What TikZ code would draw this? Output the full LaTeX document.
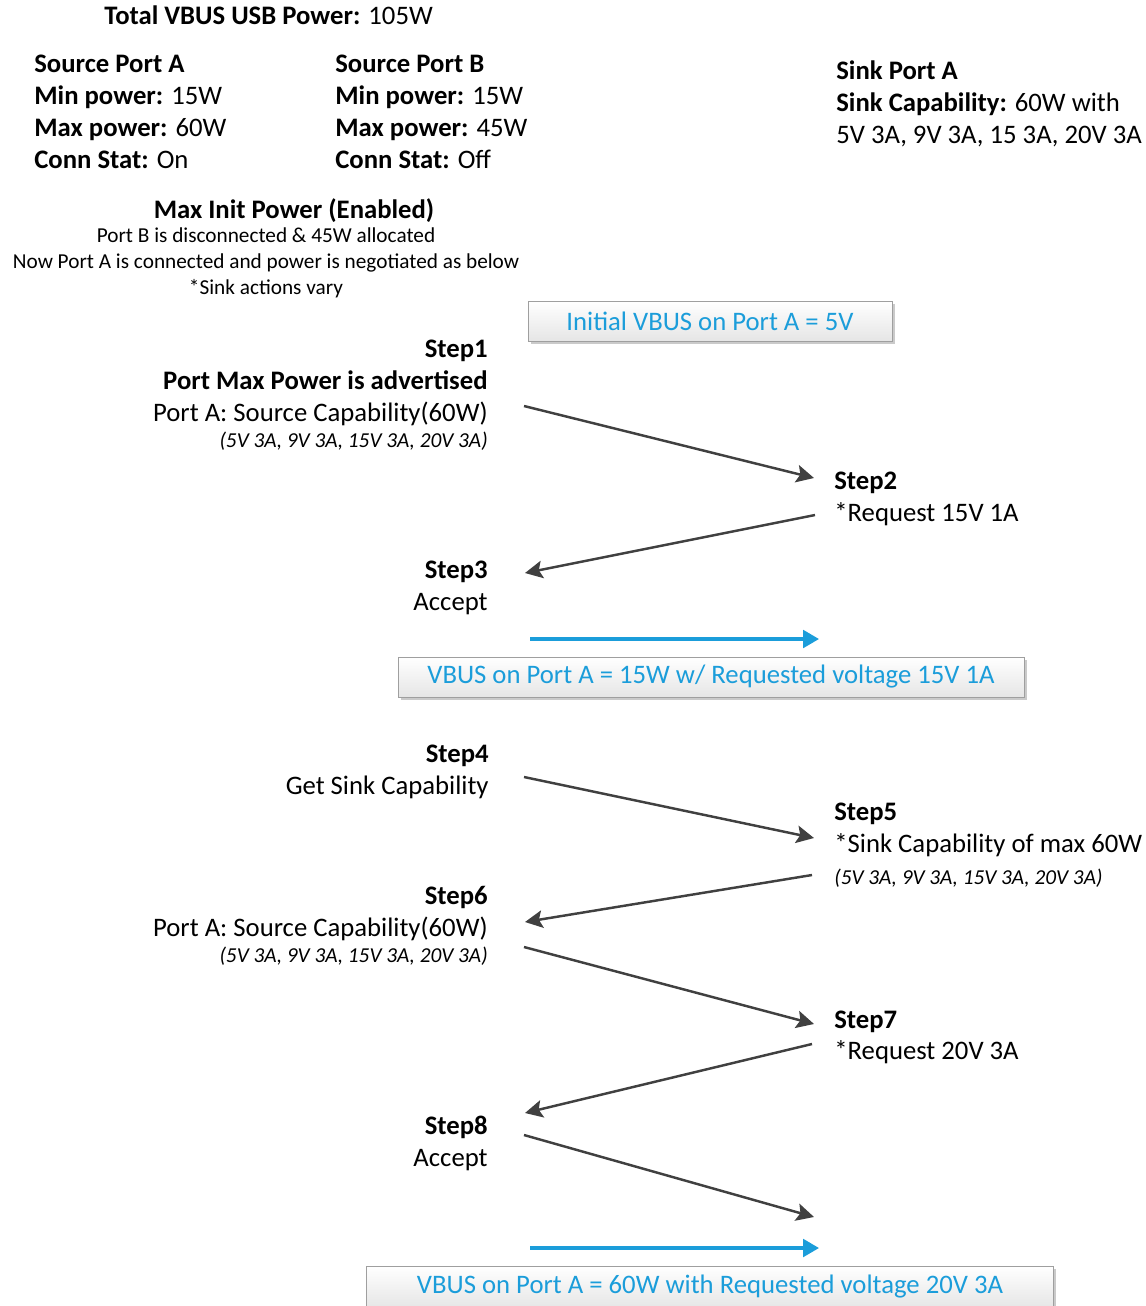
\documentclass[tikz,border=0pt]{standalone}
\usepackage{fontspec}
\setmainfont{Carlito}
\usetikzlibrary{arrows.meta, shadows}
\definecolor{vbusblue}{RGB}{27,157,218}
\definecolor{arrowgray}{RGB}{64,64,64}
\tikzset{
  txt/.style={inner sep=0pt, anchor=base west, font=\fontsize{15.2}{18}\selectfont},
  rtxt/.style={txt, anchor=base east},
  small/.style={inner sep=0pt, anchor=base, font=\fontsize{12.1}{14}\selectfont},
  caps/.style={inner sep=0pt, font=\fontsize{12.1}{14}\selectfont\itshape},
  vbus/.style={
    rectangle,
    draw=gray!75,
    top color=white,
    bottom color=gray!20,
    drop shadow={shadow xshift=1.5pt, shadow yshift=-1.5pt, fill=gray!70, opacity=0.6},
    text=vbusblue,
    inner sep=0pt,
    minimum height=0.8cm,
    font=\fontsize{15.2}{18}\selectfont
  }
}
\tikzstyle{arrow} = [-{Stealth[length=10pt, width=10pt, inset=2pt]}, line width=1.4pt, draw=arrowgray, fill=arrowgray]
\tikzstyle{flow} = [-{Triangle[length=9pt, width=10pt]}, line width=1.8pt, draw=vbusblue, fill=vbusblue]
\def\hl#1{\textbf{#1}}

\begin{document}
\begin{tikzpicture}[x=0.02cm, y=-0.02cm]
    \useasboundingbox (0,0) rectangle (1146,1306);
    % header
    \node[txt] (total) at (104, 24) {\hl{Total VBUS USB Power:} 105W};
    \node[txt] (pa0) at (34, 72) {\hl{Source Port A}};
    \node[txt] (pa1) at (34, 104) {\hl{Min power:} 15W};
    \node[txt] (pa2) at (34, 136) {\hl{Max power:} 60W};
    \node[txt] (pa3) at (34, 168) {\hl{Conn Stat:} On};
    \node[txt] (pb0) at (335, 72) {\hl{Source Port B}};
    \node[txt] (pb1) at (335, 104) {\hl{Min power:} 15W};
    \node[txt] (pb2) at (335, 136) {\hl{Max power:} 45W};
    \node[txt] (pb3) at (335, 168) {\hl{Conn Stat:} Off};
    \node[txt] (sk0) at (836, 79) {\hl{Sink Port A}};
    \node[txt] (sk1) at (836, 111) {\hl{Sink Capability:} 60W with};
    \node[txt] (sk2) at (836, 143) {5V 3A, 9V 3A, 15 3A, 20V 3A};
    \node[txt, anchor=base] (mip) at (294, 218) {\hl{Max Init Power (Enabled)}};
    \node[small] (mip1) at (266, 242) {Port B is disconnected \& 45W allocated};
    \node[small] (mip2) at (266, 268) {Now Port A is connected and power is negotiated as below};
    \node[small] (mip3) at (266, 294) {*Sink actions vary};

    % boxes
    \node[vbus, minimum width=7.28cm] (box1) at (710, 321) {Initial VBUS on Port A = 5V};
    \node[vbus, minimum width=12.52cm] (box2) at (711, 677) {VBUS on Port A = 15W w/ Requested voltage 15V 1A};
    \node[vbus, minimum width=13.74cm, minimum height=0.84cm] (box3) at (710, 1287) {VBUS on Port A = 60W with Requested voltage 20V 3A};

    % steps
    \node[rtxt] (s1) at (488, 357) {\hl{Step1}};
    \node[rtxt] (s1a) at (488, 389) {\hl{Port Max Power is advertised}};
    \node[rtxt] (s1b) at (488, 421) {Port A: Source Capability(60W)};
    \node[caps, anchor=base east] (s1c) at (488, 447) {(5V 3A, 9V 3A, 15V 3A, 20V 3A)};
    \node[txt] (s2) at (834, 489) {\hl{Step2}};
    \node[txt] (s2a) at (834, 521) {*Request 15V 1A};
    \node[rtxt] (s3) at (488, 578) {\hl{Step3}};
    \node[rtxt] (s3a) at (488, 610) {Accept};
    \node[rtxt] (s4) at (489, 762) {\hl{Step4}};
    \node[rtxt] (s4a) at (489, 794) {Get Sink Capability};
    \node[txt] (s5) at (834, 820) {\hl{Step5}};
    \node[txt] (s5a) at (834, 852) {*Sink Capability of max 60W};
    \node[caps, anchor=base west] (s5b) at (834, 884) {(5V 3A, 9V 3A, 15V 3A, 20V 3A)};
    \node[rtxt] (s6) at (488, 904) {\hl{Step6}};
    \node[rtxt] (s6a) at (488, 936) {Port A: Source Capability(60W)};
    \node[caps, anchor=base east] (s6b) at (488, 962) {(5V 3A, 9V 3A, 15V 3A, 20V 3A)};
    \node[txt] (s7) at (834, 1028) {\hl{Step7}};
    \node[txt] (s7a) at (834, 1059) {*Request 20V 3A};
    \node[rtxt] (s8) at (488, 1134) {\hl{Step8}};
    \node[rtxt] (s8a) at (488, 1166) {Accept};

    % arrow ends
    \coordinate (src1) at (524, 406);  \coordinate (snk1) at (814, 478);
    \coordinate (snk2) at (815, 515);  \coordinate (src2) at (525, 573);
    \coordinate (src3) at (524, 777);  \coordinate (snk3) at (814, 838);
    \coordinate (snk4) at (812, 875);  \coordinate (src4) at (525, 922);
    \coordinate (src5) at (524, 947);  \coordinate (snk5) at (814, 1024);
    \coordinate (snk6) at (812, 1044); \coordinate (src6) at (525, 1113);
    \coordinate (src7) at (524, 1135); \coordinate (snk7) at (814, 1217);
    \coordinate (bus1a) at (530, 639);  \coordinate (bus1b) at (819, 639);
    \coordinate (bus2a) at (530, 1248); \coordinate (bus2b) at (819, 1248);

    \draw[arrow] (src1) to (snk1);
    \draw[arrow] (snk2) to (src2);
    \draw[flow] (bus1a) to (bus1b);
    \draw[arrow] (src3) to (snk3);
    \draw[arrow] (snk4) to (src4);
    \draw[arrow] (src5) to (snk5);
    \draw[arrow] (snk6) to (src6);
    \draw[arrow] (src7) to (snk7);
    \draw[flow] (bus2a) to (bus2b);
\end{tikzpicture}
\end{document}
